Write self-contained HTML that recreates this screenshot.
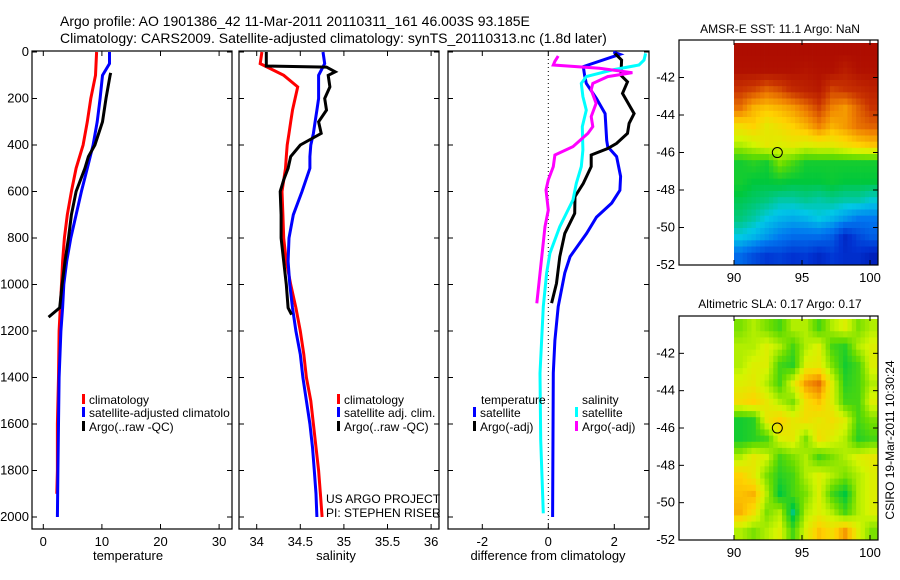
<!DOCTYPE html>
<html><head><meta charset="utf-8"><style>
body{margin:0;background:#fff;}
svg{display:block;font-family:"Liberation Sans",sans-serif;}
</style></head><body>
<svg id="fig" width="900" height="580" xmlns="http://www.w3.org/2000/svg">
<text x="60" y="26" font-size="14">Argo profile: AO 1901386_42 11-Mar-2011 20110311_161 46.003S 93.185E</text>
<text x="60" y="43" font-size="14">Climatology: CARS2009. Satellite-adjusted climatology: synTS_20110313.nc (1.8d later)</text>
<text x="780" y="33" font-size="12" text-anchor="middle">AMSR-E SST: 11.1 Argo: NaN</text>
<text x="780" y="308" font-size="12" text-anchor="middle">Altimetric SLA: 0.17 Argo: 0.17</text>
<text transform="translate(894,440) rotate(-90)" font-size="12" text-anchor="middle">CSIRO 19-Mar-2011 10:30:24</text>
<g id="g"></g>
</svg>
<script>
const depths=[0,50,100,150,200,250,300,350,400,450,500,600,700,800,900,1000,1100,1200,1300,1400,1500,1600,1700,1800,1900,2000];
const tempClimD=[0,100,200,300,400,500,600,700,800,900,1000,1200,1400,1600,1800,1900];
const tempClim=[9.1,8.9,8.1,7.5,6.8,5.6,4.8,4.1,3.6,3.3,3.1,2.7,2.6,2.4,2.4,2.3];
const tempSatD=[0,50,100,200,300,400,500,600,700,800,900,1000,1100,1200,1400,1600,1800,2000];
const tempSat=[11.3,11.3,10.1,9.7,9.2,8.5,7.5,6.5,5.6,4.7,4.0,3.5,3.3,3.0,2.7,2.6,2.5,2.4];
const tempArgoD=[90,100,200,300,400,450,500,600,700,800,900,1000,1100,1140];
const tempArgo=[11.5,11.4,10.7,10.1,8.8,7.7,7.1,5.6,4.8,4.3,3.7,3.2,2.8,0.9];
const salClim=[34.06,34.04,34.31,34.47,34.44,34.41,34.39,34.37,34.35,34.34,34.33,34.29,34.30,34.31,34.34,34.39,34.45,34.50,34.54,34.57,34.62,34.65,34.68,34.71,34.73,34.75];
const salSat=[34.76,34.78,34.71,34.71,34.71,34.69,34.67,34.65,34.62,34.61,34.61,34.52,34.42,34.37,34.36,34.38,34.41,34.45,34.50,34.53,34.57,34.61,34.64,34.66,34.68,34.69];
const salArgoD=[0,60,65,85,100,150,200,250,300,350,400,450,500,550,600,700,800,900,1000,1100,1130];
const salArgo=[34.11,34.11,34.80,34.90,34.82,34.84,34.78,34.80,34.71,34.74,34.50,34.39,34.36,34.31,34.27,34.28,34.28,34.31,34.34,34.36,34.40];
const dTsatD=[0,10,63,100,135,200,265,380,407,450,535,595,650,710,780,880,950,1095,1240,1380,2000];
const dTsat=[1.97,2.17,1.06,1.1,1.15,1.46,1.72,1.77,1.8,2.07,2.19,2.17,1.92,1.46,1.16,0.66,0.5,0.3,0.2,0.15,0.13];
const dTargoD=[6,35,100,128,178,265,307,350,393,415,443,493,565,622,694,780,880,995,1080];
const dTargo=[2.02,2.22,2.2,2.4,2.25,2.6,2.45,2.4,2.07,1.8,1.3,1.3,1.06,0.81,0.8,0.5,0.35,0.25,0.1];
const dSsatD=[6,35,56,77,106,135,192,250,321,421,493,565,636,751,866,952,1095,1382,1669,1984];
const dSsat=[2.95,2.9,2.75,1.95,1.15,1.0,1.05,1.15,1.03,1.05,1.0,0.85,0.75,0.35,0.05,-0.05,-0.15,-0.25,-0.23,-0.15];
const dSargoD=[17,40,56,70,89,106,135,163,221,278,321,350,407,443,493,550,593,680,751,952,1081];
const dSargo=[0.3,0.2,0.15,1.55,2.55,1.8,1.35,1.3,1.45,1.3,1.35,1.2,0.75,0.2,0.15,0.0,-0.07,0,-0.1,-0.25,-0.35];
const sstRows=[
[0.97,0.97,0.97,0.97,0.97,0.97,0.97,0.97,0.97,0.97,0.97],
[0.96,0.96,0.96,0.96,0.96,0.95,0.96,0.96,0.93,0.96,0.96],
[0.88,0.86,0.82,0.85,0.9,0.92,0.94,0.86,0.88,0.9,0.92],
[0.8,0.72,0.7,0.72,0.75,0.8,0.86,0.78,0.75,0.82,0.88],
[0.65,0.68,0.62,0.65,0.68,0.72,0.78,0.72,0.75,0.8,0.82],
[0.55,0.58,0.62,0.6,0.62,0.6,0.62,0.62,0.65,0.68,0.7],
[0.4,0.42,0.4,0.5,0.45,0.4,0.4,0.4,0.4,0.4,0.4],
[0.4,0.38,0.38,0.39,0.38,0.38,0.38,0.39,0.38,0.38,0.38],
[0.37,0.36,0.35,0.33,0.33,0.34,0.33,0.34,0.33,0.33,0.31],
[0.35,0.33,0.3,0.28,0.27,0.28,0.3,0.28,0.25,0.22,0.22],
[0.3,0.28,0.25,0.22,0.2,0.2,0.2,0.18,0.1,0.15,0.18],
[0.2,0.16,0.13,0.14,0.12,0.13,0.1,0.13,0.11,0.11,0.08]];
const slaRows=[
[0.5,0.55,0.5,0.45,0.55,0.55,0.45,0.55,0.6,0.5,0.55],
[0.55,0.55,0.6,0.55,0.45,0.55,0.6,0.45,0.42,0.55,0.6],
[0.55,0.6,0.6,0.45,0.42,0.6,0.62,0.5,0.4,0.45,0.6],
[0.6,0.62,0.55,0.45,0.6,0.75,0.8,0.6,0.42,0.45,0.55],
[0.65,0.68,0.62,0.55,0.5,0.65,0.7,0.6,0.45,0.45,0.6],
[0.4,0.42,0.62,0.68,0.62,0.65,0.62,0.65,0.6,0.45,0.5],
[0.4,0.42,0.45,0.6,0.62,0.5,0.65,0.6,0.55,0.42,0.45],
[0.55,0.62,0.58,0.45,0.5,0.55,0.45,0.5,0.55,0.6,0.62],
[0.68,0.62,0.5,0.42,0.45,0.55,0.6,0.55,0.5,0.55,0.6],
[0.7,0.72,0.55,0.38,0.45,0.5,0.6,0.45,0.38,0.55,0.6],
[0.72,0.65,0.5,0.55,0.35,0.55,0.6,0.55,0.45,0.55,0.6],
[0.55,0.5,0.55,0.6,0.45,0.6,0.7,0.65,0.75,0.6,0.5]];
const depthTicks=[0,200,400,600,800,1000,1200,1400,1600,1800,2000];
const tempTicks=[0,10,20,30];
const salTicks=[34,34.5,35,35.5,36];
const diffTicks=[-2,0,2];
const latTicks=[-42,-44,-46,-48,-50,-52];
const lonTicks=[90,95,100];
const argoLon=93.185, argoLat=-46.003;

const NS="http://www.w3.org/2000/svg";
const G=document.getElementById('g');
function el(t,a,p){const e=document.createElementNS(NS,t);for(const k in a)e.setAttribute(k,a[k]);(p||G).appendChild(e);return e;}
const yD=d=>52+d*0.2325;
const xT=v=>43.3+v*5.86;
const xS=v=>256.7+(v-34)*87.2;
const xF=v=>548.3+v*33;
const FS=13;

function line(ds,vs,xf,col,name,w){
  const p=ds.map((d,i)=>xf(vs[i]).toFixed(1)+','+yD(d).toFixed(1)).join(' ');
  const e=el('polyline',{points:p,fill:'none',stroke:col,'stroke-width':w||3});
  
  
}
function box(x0,y0,x1,y1,name){
  const e=el('rect',{x:x0,y:y0,width:x1-x0,height:y1-y0,fill:'none',stroke:'#000','stroke-width':1.2});
  
  
}
function xticks(vals,xf,y0,y1,name){
  vals.forEach(v=>{const x=xf(v);
    el('line',{x1:x,x2:x,y1:y1,y2:y1-5,stroke:'#000'});
    el('line',{x1:x,x2:x,y1:y0,y2:y0+5,stroke:'#000'});
    const t=el('text',{x:x,y:y1+17,'font-size':FS,'text-anchor':'middle'});t.textContent=v;
    
    });
}
function yticks(x0,x1,labels){
  depthTicks.forEach(d=>{const y=yD(d);
    el('line',{x1:x0,x2:x0+5,y1:y,y2:y,stroke:'#000'});
    el('line',{x1:x1,x2:x1-5,y1:y,y2:y,stroke:'#000'});
    if(labels){const t=el('text',{x:x0-3,y:y+4,'font-size':FS,'text-anchor':'end'});t.textContent=d;
      
      }});
}
function label(x,y,txt,name,anchor,fs){const t=el('text',{x:x,y:y,'font-size':fs||12,'text-anchor':anchor||'start'});t.textContent=txt;
  
  return t;}
function legend(x,y,col,txt,name){
  el('rect',{x:x,y:y-10,width:3,height:10,fill:col});
  label(x+7,y,txt,name);
}
// Panel 1
box(32,51,232,529,'temperature-axes');
yticks(32,232,true);
xticks(tempTicks,xT,51,529,'temperature-tick-label');
line(tempClimD,tempClim,xT,'#ff0000','temp-climatology-line');
line(tempSatD,tempSat,xT,'#0000ff','temp-satellite-line');
line(tempArgoD,tempArgo,xT,'#000000','temp-argo-line');
label(128,560,'temperature','temperature-axis-title','middle',FS);
legend(82,404,'#ff0000','climatology','legend-climatology');
legend(82,417,'#0000ff','satellite-adjusted climatolo','legend-satellite-adjusted');
legend(82,431,'#000000','Argo(..raw -QC)','legend-argo');
// Panel 2
box(239,51,439,529,'salinity-axes');
yticks(239,439,false);
xticks(salTicks,xS,51,529,'salinity-tick-label');
line(depths,salClim,xS,'#ff0000','sal-climatology-line');
line(depths,salSat,xS,'#0000ff','sal-satellite-line');
line(salArgoD,salArgo,xS,'#000000','sal-argo-line');
label(336,560,'salinity','salinity-axis-title','middle',FS);
legend(337,404,'#ff0000','climatology','legend-sal-climatology');
legend(337,417,'#0000ff','satellite adj. clim.','legend-sal-satellite');
legend(337,431,'#000000','Argo(..raw -QC)','legend-sal-argo');
label(326,503,'US ARGO PROJECT','project-label');
label(326,517,'PI: STEPHEN RISER','pi-label');
// Panel 3
box(448,51,649,529,'difference-axes');
yticks(448,649,false);
xticks(diffTicks,xF,51,529,'difference-tick-label');
el('line',{x1:xF(0),x2:xF(0),y1:51,y2:529,stroke:'#000','stroke-dasharray':'1,3'});
line(dTsatD,dTsat,xF,'#0000ff','diff-temp-satellite-line');
line(dTargoD,dTargo,xF,'#000000','diff-temp-argo-line');
line(dSsatD,dSsat,xF,'#00ffff','diff-sal-satellite-line');
line(dSargoD,dSargo,xF,'#ff00ff','diff-sal-argo-line');
label(548,560,'difference from climatology','difference-axis-title','middle',FS);
label(481,404,'temperature','legend-temperature-header');
legend(473,417,'#0000ff','satellite','legend-temp-satellite');
legend(473,431,'#000000','Argo(-adj)','legend-temp-argo');
label(582,404,'salinity','legend-salinity-header');
legend(575,417,'#00ffff','satellite','legend-sal-satellite-diff');
legend(575,431,'#ff00ff','Argo(-adj)','legend-sal-argo-diff');
// colormap
const cmStops=[[0,[0,0,140]],[0.12,[0,50,210]],[0.22,[0,120,240]],[0.3,[0,200,230]],[0.38,[0,200,60]],[0.48,[100,220,0]],[0.58,[210,245,0]],[0.68,[255,210,0]],[0.78,[240,130,0]],[0.88,[200,50,0]],[1,[165,0,0]]];
function cmap(v){
  v=Math.max(0,Math.min(1,v));
  for(let i=1;i<cmStops.length;i++){if(v<=cmStops[i][0]){const a=cmStops[i-1],b=cmStops[i];const t=(v-a[0])/(b[0]-a[0]);
    return 'rgb('+a[1].map((c,k)=>Math.round(c+(b[1][k]-c)*t)).join(',')+')';}}
  return 'rgb(165,0,0)';
}
function sample(rows,fi,fj){
  const R=rows.length,C=rows[0].length;
  fi=Math.max(0,Math.min(R-1,fi));fj=Math.max(0,Math.min(C-1,fj));
  const i0=Math.floor(fi),j0=Math.floor(fj),i1=Math.min(R-1,i0+1),j1=Math.min(C-1,j0+1);
  const a=fi-i0,b=fj-j0;
  return rows[i0][j0]*(1-a)*(1-b)+rows[i1][j0]*a*(1-b)+rows[i0][j1]*(1-a)*b+rows[i1][j1]*a*b;
}
function map(rows,top,bot,name){
  const xL=lon=>734+(lon-90)*13.6;
  const yL=lat=>bot-(lat+52)*((bot-top)/12);
  const S=3,R=rows.length,C=rows[0].length;
  const cw=(878-734)/(C*S), ch=(bot-top-3)/(R*S);
  for(let i=0;i<R*S;i++)for(let j=0;j<C*S;j++){
    const v=sample(rows,(i+0.5)/S-0.5,(j+0.5)/S-0.5);
    const e=el('rect',{x:(734+j*cw).toFixed(2),y:(bot-(R*S-i)*ch).toFixed(2),width:(cw+0.4).toFixed(2),height:(ch+0.4).toFixed(2),fill:cmap(v)});
    
    
  }
  box(679,top,878,bot,name+'-axes');
  latTicks.forEach(l=>{const y=yL(l);el('line',{x1:679,x2:684,y1:y,y2:y,stroke:'#000'});el('line',{x1:878,x2:873,y1:y,y2:y,stroke:'#000'});
    const t=el('text',{x:675,y:y+4,'font-size':FS,'text-anchor':'end'});t.textContent=l;
    
    });
  lonTicks.forEach(l=>{const x=xL(l);el('line',{x1:x,x2:x,y1:bot,y2:bot-5,stroke:'#000'});el('line',{x1:x,x2:x,y1:top,y2:top+5,stroke:'#000'});
    const t=el('text',{x:x,y:bot+17,'font-size':FS,'text-anchor':'middle'});t.textContent=l;
    
    });
  const c=el('circle',{cx:xL(argoLon),cy:yL(argoLat),r:5,fill:'none',stroke:'#000'});
  
  
}
map(sstRows,40,265,'sst-map');
map(slaRows,316,540,'sla-map');
</script>
</body></html>
